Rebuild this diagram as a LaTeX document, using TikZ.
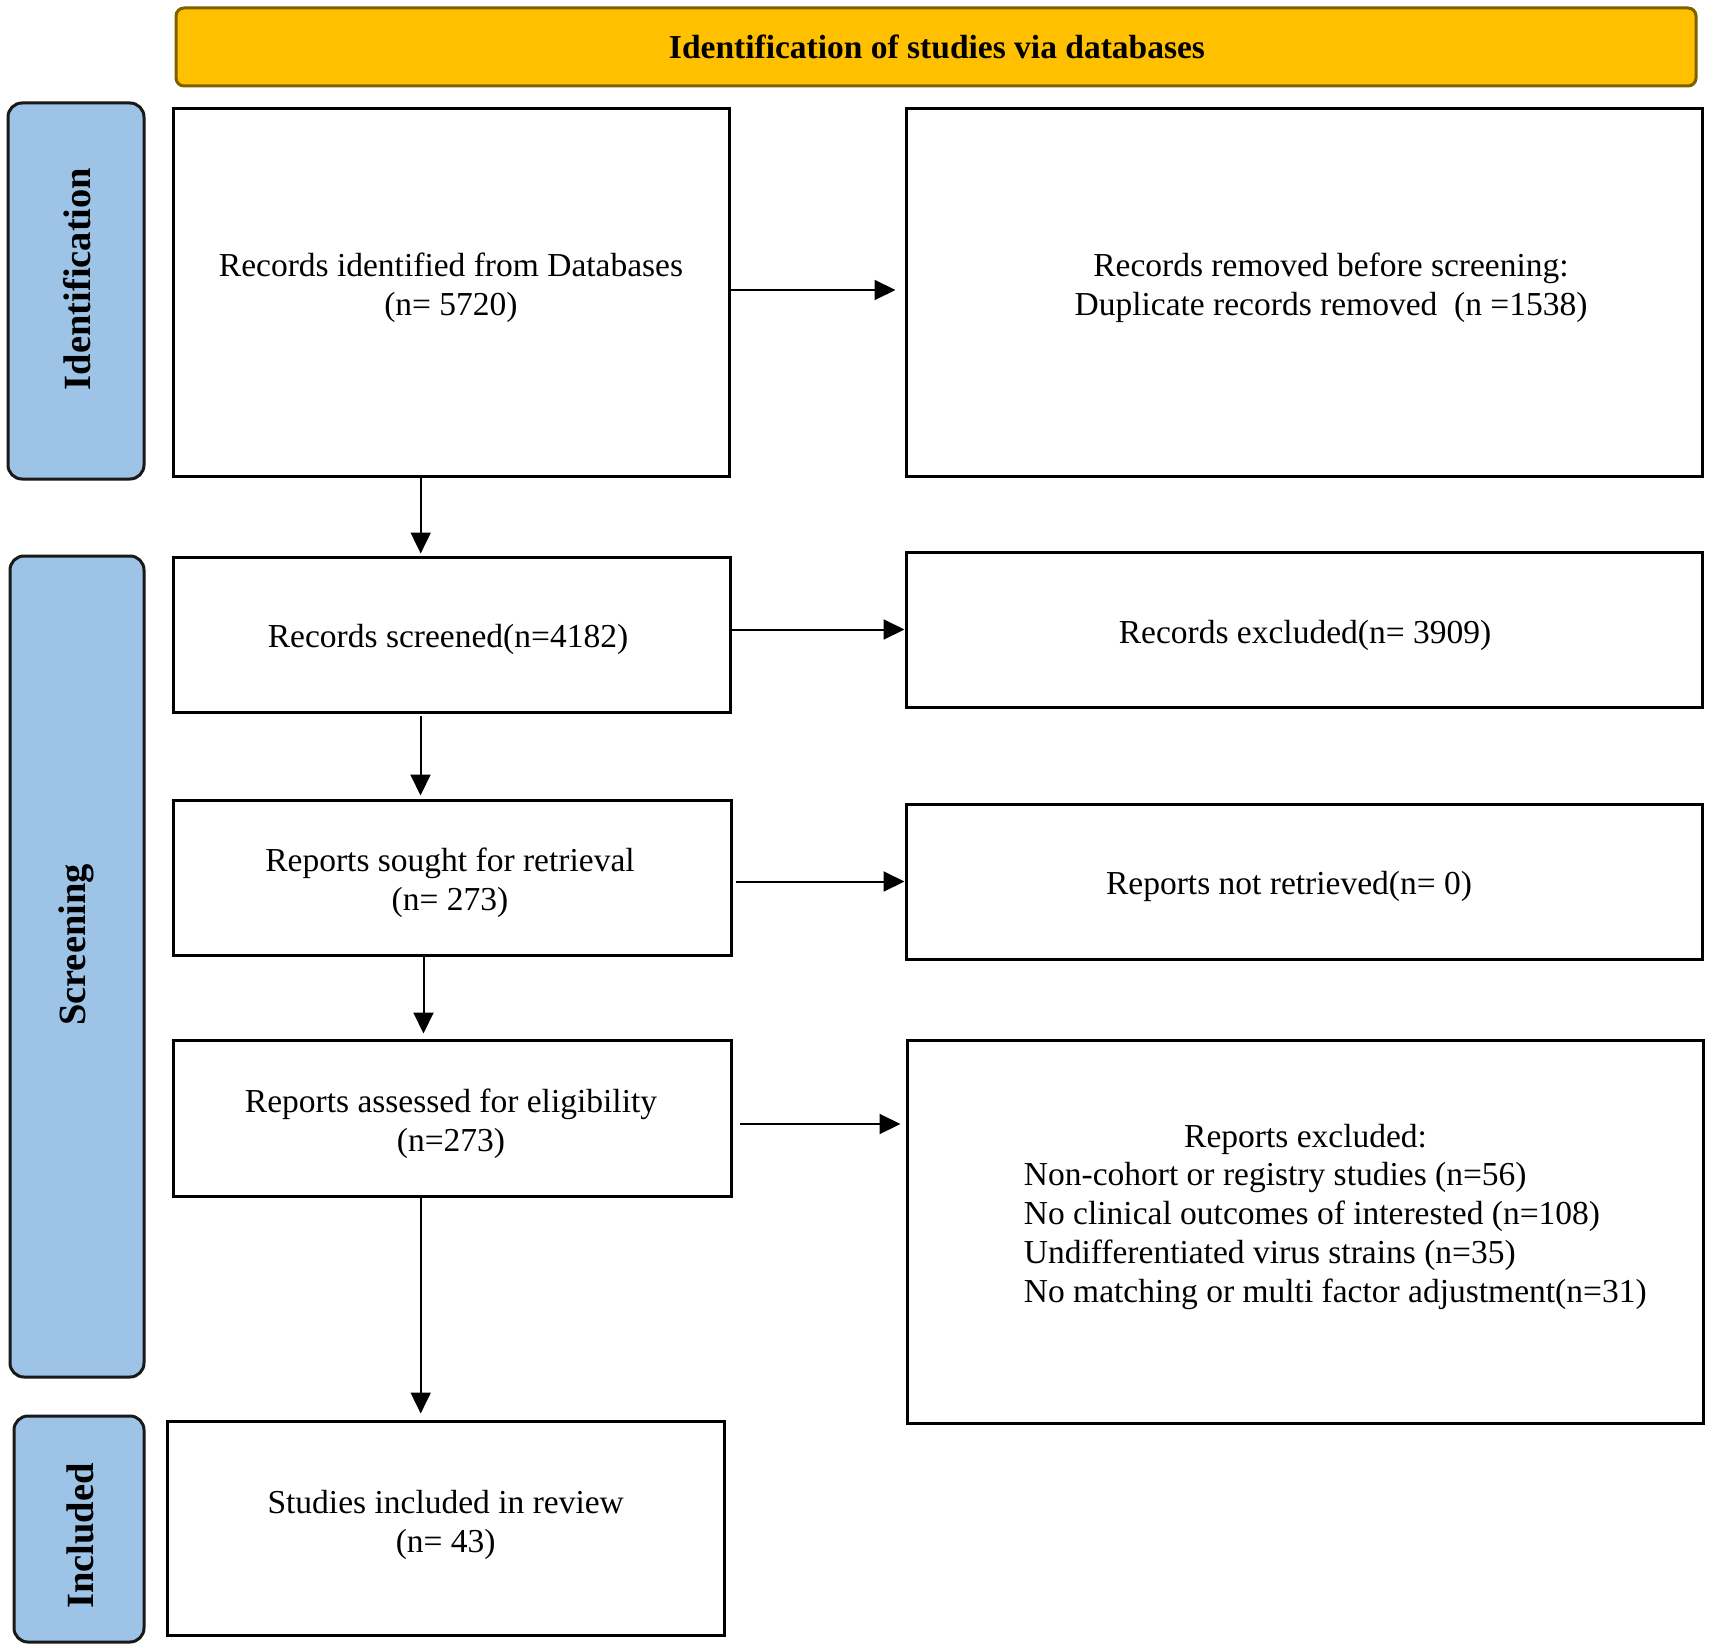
\documentclass[tikz,border=0pt]{standalone}
\usepackage{fontspec}
\setmainfont{Liberation Serif}
\usetikzlibrary{arrows.meta,fit}
\definecolor{sideblue}{HTML}{9DC3E6}
\definecolor{gold}{HTML}{FFC000}
\definecolor{goldborder}{HTML}{7F6000}
\begin{document}
\begin{tikzpicture}[x=1pt,y=-1pt,
  box/.style={draw=black, line width=3pt, inner sep=0pt, fill=white},
  side/.style={draw=black!90, line width=3pt, fill=sideblue, rounded corners=14pt, inner sep=0pt},
  head/.style={draw=goldborder, line width=3pt, fill=gold, rounded corners=8pt, inner sep=0pt},
  txt/.style={font=\fontsize{33.5}{39}\selectfont, align=center, inner sep=0pt, yshift=-3.5pt},
  lab/.style={font=\fontsize{38.5}{46}\selectfont\bfseries, rotate=90, inner sep=0pt},
  arr/.style={line width=2pt, -{Triangle[length=21pt,width=20pt]}}]
\fill[white] (0,0) rectangle (1713,1648);
\useasboundingbox (0,0) rectangle (1713,1648);

% header and side bars
\node[head, fit={(176,8)(1696,86)}] (hdr) {};
\node[side, fit={(8,103)(144,479)}] (sid) {};
\node[side, fit={(10,556)(144,1377)}] (sscr) {};
\node[side, fit={(14,1416)(144,1642)}] (sinc) {};

% boxes
\node[box, fit={(173,109)(729,476)}] (b1) {};
\node[box, fit={(906,109)(1702,476)}] (b2) {};
\node[box, fit={(173,557)(730,712)}] (b3) {};
\node[box, fit={(906,552)(1702,707)}] (b4) {};
\node[box, fit={(173,800)(731,955)}] (b5) {};
\node[box, fit={(906,804)(1702,959)}] (b6) {};
\node[box, fit={(173,1040)(731,1196)}] (b7) {};
\node[box, fit={(907,1040)(1703,1423)}] (b8) {};
\node[box, fit={(167,1421)(724,1635)}] (b9) {};

% texts
\node[font=\fontsize{33.5}{39}\selectfont\bfseries, inner sep=0pt] (ttl) at (937,47) {Identification of studies via databases};
\node[lab] (lid) at (77,279) {Identification};
\node[lab] (lscr) at (76,945) {Screening};
\node[lab] (linc) at (80,1536) {Included};

\node[txt] (t1) at (451,284) {Records identified from Databases\\(n= 5720)};
\node[txt] (t2) at (1331,284) {Records removed before screening:\\Duplicate records removed\ \ (n =1538)};
\node[txt] (t3) at (448,636) {Records screened(n=4182)};
\node[txt] (t4) at (1305,631.5) {Records excluded(n= 3909)};
\node[txt] (t5) at (450,879) {Reports sought for retrieval\\(n= 273)};
\node[txt] (t6) at (1289,883) {Reports not retrieved(n= 0)};
\node[txt] (t7) at (451,1120.5) {Reports assessed for eligibility\\(n=273)};
\node[txt] (t8a) at (1305.6,1136) {Reports excluded:};
\node[txt, align=left, anchor=west] (t8b) at (1023.7,1232) {Non-cohort or registry studies (n=56)\\No clinical outcomes of interested (n=108)\\Undifferentiated virus strains (n=35)\\No matching or multi factor adjustment(n=31)};
\node[txt] (t9) at (445.7,1521) {Studies included in review\\(n= 43)};

% connectors
\draw[arr, shorten >=9pt] ([yshift=2.5pt]b1.east) -- ([yshift=2.5pt]b2.west);
\draw[arr] (b3.east |- b4.west) -- (b4.west);
\draw[arr, shorten <=3pt] (b5.east |- b6.west) -- (b6.west);
\draw[arr, shorten <=7pt, shorten >=5pt] ([yshift=-6pt]b7.east) -- ([yshift=-6pt]b7.east -| b8.west);

\draw[arr, shorten >=2pt] ([xshift=-30.3pt]b1.south) -- ([xshift=-30.3pt]b1.south |- b3.north);
\draw[arr, shorten <=2pt, shorten >=3pt] ([xshift=-31pt]b3.south) -- ([xshift=-31pt]b3.south |- b5.north);
\draw[arr, shorten >=5pt] ([xshift=-28.5pt]b5.south) -- ([xshift=-28.5pt]b5.south |- b7.north);
\draw[arr, shorten >=6pt] ([xshift=-31.3pt]b7.south) -- ([xshift=-31.3pt]b7.south |- b9.north);
\end{tikzpicture}
\end{document}
